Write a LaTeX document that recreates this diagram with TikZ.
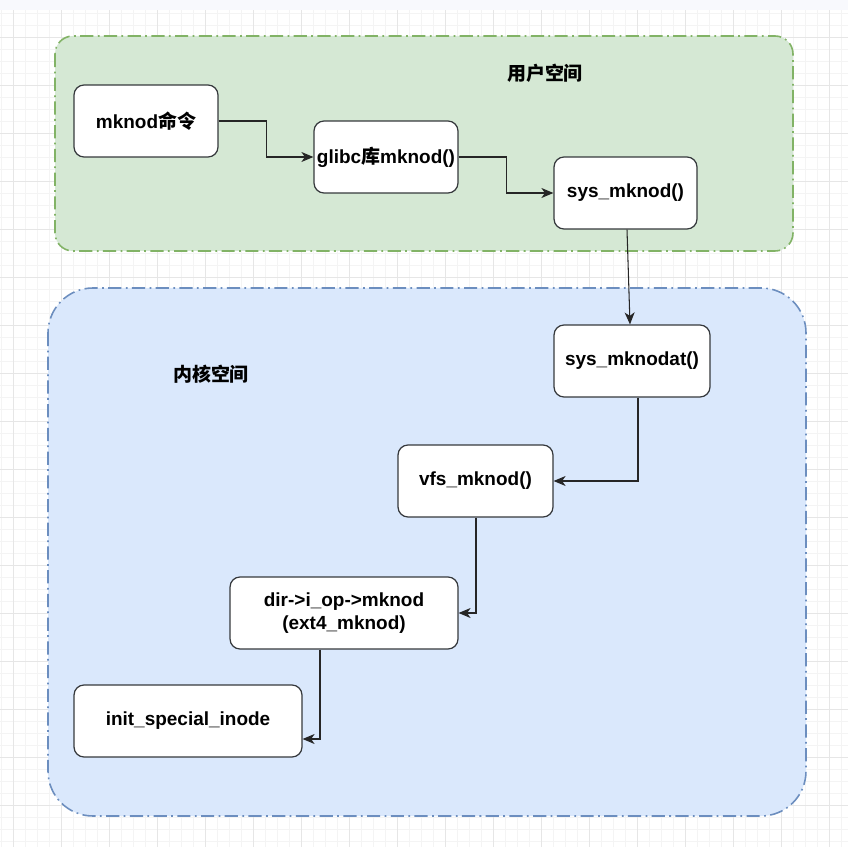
\documentclass[tikz,border=0pt]{standalone}
\usepackage{fontspec}
\setmainfont{Liberation Sans}
\newfontfamily\cjk{Noto Sans CJK SC}
\usepackage{tikz}
\usetikzlibrary{positioning,calc,arrows.meta}
\definecolor{usergreen}{HTML}{D5E8D4}
\definecolor{userline}{HTML}{82B366}
\definecolor{kernblue}{HTML}{DAE8FC}
\definecolor{kernline}{HTML}{6C8EBF}
\definecolor{gridminor}{HTML}{F4F4F4}
\definecolor{gridmajor}{HTML}{E6E6E6}
\definecolor{topstrip}{HTML}{F8F9FD}
\definecolor{boxline}{HTML}{36393D}

\begin{document}
\begin{tikzpicture}[x=0.02cm,y=-0.02cm,
  func/.style={rectangle,rounded corners=0.2cm,draw=boxline,fill=white,line width=0.7pt,
    minimum height=1.44cm,align=center,font=\fontsize{10.8}{13}\selectfont\bfseries,inner sep=1pt},
  space/.style={line width=0.9pt,dash pattern=on 7.5pt off 2.5pt on 1pt off 2.5pt},
  flow/.style={draw=black!85,line width=0.6pt,-{Stealth[length=2.4mm,width=2mm,inset=0.7mm]}}]
\useasboundingbox (0,0) rectangle (848,847);
\fill[white] (0,0) rectangle (848,847);
% grid
\foreach \gx in {1,13,...,848} \draw[gridminor,line width=0.4pt] (\gx,10) -- (\gx,847);
\foreach \gy in {13,25,...,847} \draw[gridminor,line width=0.4pt] (0,\gy) -- (848,\gy);
\foreach \gx in {13,61,...,848} \draw[gridmajor,line width=0.5pt] (\gx,10) -- (\gx,847);
\foreach \gy in {37,85,...,847} \draw[gridmajor,line width=0.5pt] (0,\gy) -- (848,\gy);
\fill[topstrip] (0,0) rectangle (848,10);
% spaces
\draw[space,draw=userline,fill=usergreen,rounded corners=0.36cm] (55,36) rectangle (793,251);
\draw[space,draw=kernline,fill=kernblue,rounded corners=0.9cm] (48,288) rectangle (806,816);
\node (userlbl) at (545,73) [font=\fontsize{10.8}{13}\selectfont\cjk\bfseries] {用户空间};
\node (kernlbl) at (211,374) [font=\fontsize{10.8}{13}\selectfont\cjk\bfseries] {内核空间};
% functions
\node[func,minimum width=2.88cm] (cmd) at (146,121) {mknod{\cjk 命令}};
\node[func,minimum width=2.88cm] (glibc) at (386,157) {glibc{\cjk 库}mknod()};
\node[func,minimum width=2.86cm] (sysmk) at (625.5,193) {sys\_mknod()};
\node[func,minimum width=3.12cm] (sysat) at (632,361) {sys\_mknodat()};
\node[func,minimum width=3.1cm] (vfs) at (475.5,481) {vfs\_mknod()};
\node[func,minimum width=4.56cm] (ext4) at (344,613) {dir->i\_op->mknod\\(ext4\_mknod)};
\node[func,minimum width=4.56cm] (init) at (188,721) {init\_special\_inode};
% calls
\draw[flow] (cmd.east) -- ++(48,0) |- (glibc.west);
\draw[flow] (glibc.east) -- ++(48,0) |- (sysmk.west);
\draw[flow] ($(sysmk.south)+(1.5,0)$) -- ($(sysat.north)+(-2,0)$);
\draw[flow] ($(sysat.south)+(6,0)$) |- (vfs.east);
\draw[flow] ($(vfs.south)+(0.5,0)$) |- (ext4.east);
\coordinate (initin) at ($(init.east)+(0,18)$);
\draw[flow] ($(ext4.south)+(-24,0)$) |- (initin);
\end{tikzpicture}
\end{document}
